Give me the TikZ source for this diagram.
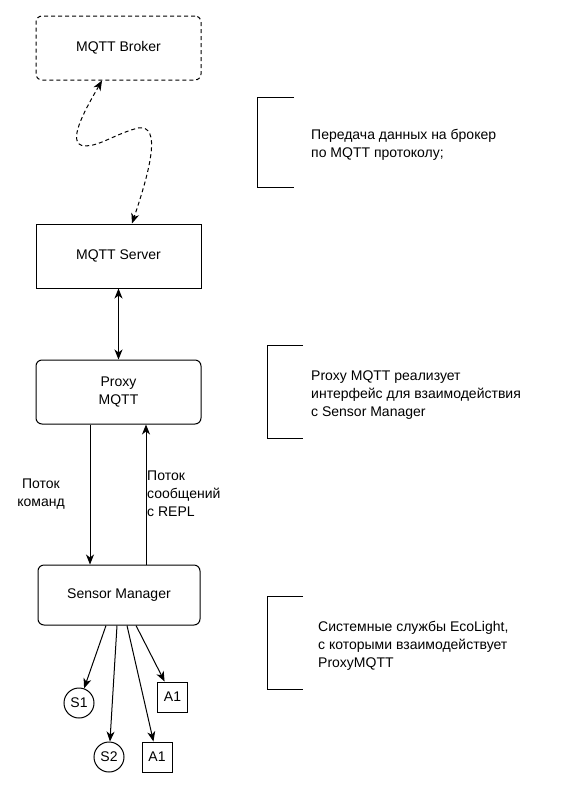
\documentclass[tikz,border=0pt]{standalone}
\usepackage{fontspec}
\setmainfont{Liberation Sans}
\usetikzlibrary{arrows.meta,calc}
\begin{document}
\begin{tikzpicture}[x=1pt,y=-1pt,
  every node/.style={font=\fontsize{14}{18}\selectfont},
  block/.style={draw,line width=1pt,minimum width=165pt,minimum height=64pt,inner sep=0pt,align=center},
  rblock/.style={block,rounded corners=6pt},
  small/.style={draw,line width=1pt,inner sep=0pt},
  conn/.style={line width=1pt,-{Stealth[length=10pt,width=8pt,inset=3pt]}},
  conn2/.style={line width=1pt,{Stealth[length=10pt,width=8pt,inset=3pt]}-{Stealth[length=10pt,width=8pt,inset=3pt]}},
  dsh/.style={dash pattern=on 4pt off 3pt},
  note/.style={anchor=west,align=left,inner sep=0pt},
  brk/.style={line width=1pt}
]
\useasboundingbox (0,0) rectangle (581,788);

\node[rblock,dsh] (broker) at (118.5,48) {MQTT Broker};
\node[block] (server) at (118.5,256) {MQTT Server};
\node[rblock] (proxy) at (118.5,392) {Proxy\\MQTT};
\node[rblock,minimum width=162pt,minimum height=60pt] (sensor) at (119,595) {Sensor Manager};

\node[small,circle,minimum size=30pt] (s1) at (79,703) {S1};
\node[small,circle,minimum size=30pt] (s2) at (109,757) {S2};
\node[small,minimum size=30pt] (a1) at (172.5,697) {A1};
\node[small,minimum size=30pt] (a2) at (157,757) {A1};

% broker <-> server wavy dashed
\coordinate (bs) at ($(broker.south)+(-16.5,0)$);
\coordinate (st) at ($(server.north)+(13.5,0)$);
\draw[conn2,dsh] (bs) .. controls (85,110) and (65,145) .. (85,146)
  .. controls (100,146) and (115,134) .. (138,128)
  .. controls (162,124) and (150,170) .. (st);

\draw[conn2] (server.south) -- (proxy.north);

\coordinate (pd) at ($(proxy.south)+(-28.5,0)$);
\coordinate (pu) at ($(proxy.south)+(27.5,0)$);
\draw[conn] (pd) -- (pd |- sensor.north);
\draw[conn] (pu |- sensor.north) -- (pu);

\node[align=center,inner sep=0pt] (lcmd) at (41,494) {Поток\\команд};
\node[note] (lmsg) at (147,494) {Поток\\сообщений\\с REPL};

\draw[conn] ($(sensor.south)+(-13,0)$) -- (s1);
\draw[conn] ($(sensor.south)+(-2,0)$) -- (s2);
\draw[conn] ($(sensor.south)+(8,0)$) -- (a2);
\draw[conn] ($(sensor.south)+(17,0)$) -- (a1);

% brackets
\draw[brk] (294,97.5) -| (257,187) -- (294,187);
\node[note] (n1) at (311,145) {Передача данных на брокер\\по MQTT протоколу;};

\draw[brk] (303,345) -| (267,438) -- (303,438);
\node[note] (n2) at (311,395) {Proxy MQTT реализует\\интерфейс для взаимодействия\\с Sensor Manager};

\draw[brk] (303,596) -| (267,689) -- (303,689);
\node[note] (n3) at (318,646) {Системные службы EcoLight,\\с которыми взаимодействует\\ProxyMQTT};
\end{tikzpicture}
\end{document}
